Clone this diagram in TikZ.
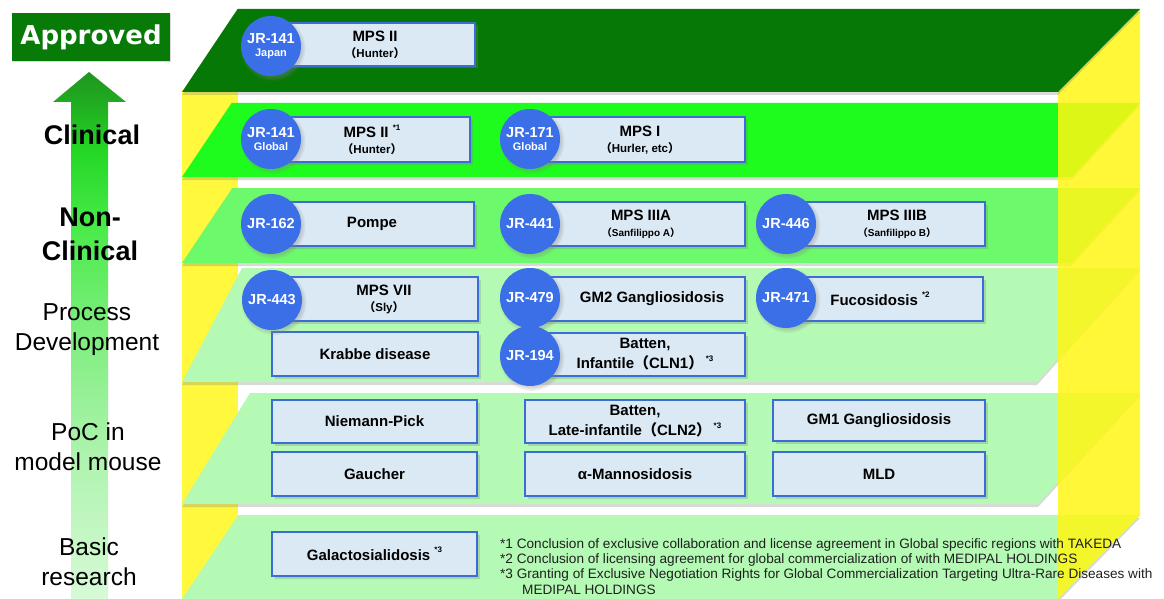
\documentclass[tikz,border=0pt]{standalone}
\usepackage{fontspec}
\setmainfont{Liberation Sans}
\newfontfamily\dvb{DejaVu Sans}
\newfontfamily\jpf{Noto Sans CJK JP}
\usetikzlibrary{shadows}
\definecolor{layA}{RGB}{6,120,6}
\definecolor{layB}{RGB}{30,252,30}
\definecolor{layC}{RGB}{108,250,108}
\definecolor{layD}{RGB}{180,250,180}
\definecolor{wallY}{RGB}{255,248,60}
\definecolor{wallR}{RGB}{255,246,20}
\definecolor{boxblue}{RGB}{58,110,214}
\definecolor{boxfill}{RGB}{219,233,244}
\definecolor{circblue}{RGB}{58,111,232}
\definecolor{apgreen}{RGB}{8,122,8}
\definecolor{arA}{RGB}{30,150,30}
\definecolor{arB}{RGB}{32,170,32}
\definecolor{arC}{RGB}{36,215,36}
\definecolor{arD}{RGB}{75,235,75}
\definecolor{arE}{RGB}{125,238,125}
\definecolor{arF}{RGB}{172,243,172}
\definecolor{arG}{RGB}{215,250,215}
\pgfdeclareverticalshading{arrowsh}{100bp}{color(0bp)=(arG); color(25bp)=(arG); color(39bp)=(arF); color(50.5bp)=(arE); color(60bp)=(arD); color(67.6bp)=(arC); color(72.3bp)=(arB); color(75bp)=(arA); color(100bp)=(arA)}
\newcommand\jlp{{\jpf （}}
\newcommand\jrp{{\jpf ）}}
\newcommand\fnmk[1]{\raisebox{0.5em}{\fontsize{8}{8}\selectfont #1}}
\newcommand\subl[1]{{\fontsize{11.5}{12}\selectfont #1}}
\begin{document}
\begin{tikzpicture}[x=1pt,y=-1pt,
 layerS/.style={drop shadow={shadow xshift=0pt,shadow yshift=-3pt,opacity=0.3}},
 dbox/.style={draw=boxblue,line width=1.8pt,fill=boxfill,inner sep=0pt,drop shadow={shadow xshift=2.5pt,shadow yshift=-2.5pt,opacity=0.3}},
 jr/.style={circle,fill=circblue,minimum size=60pt,inner sep=0pt,text=white,align=center,font=\bfseries\fontsize{14.5}{15}\selectfont,circular drop shadow={shadow xshift=1.5pt,shadow yshift=-2pt,opacity=0.35}},
 bt/.style={font=\bfseries\fontsize{15}{16}\selectfont,align=center,inner sep=0pt},
 btt/.style={font=\bfseries\fontsize{15}{20}\selectfont,align=center,inner sep=0pt},
 lab/.style={font=\fontsize{24.5}{30}\selectfont,align=center,inner sep=0pt},
 labb/.style={font=\bfseries\fontsize{27}{34}\selectfont,align=center,inner sep=0pt},
 fn/.style={font=\fontsize{13.6}{15}\selectfont,anchor=west,inner sep=0pt,text=black!88}]
\useasboundingbox (0,0) rectangle (1164,599);
% left arrow
\shade[shading=arrowsh] (89,72) -- (126,102) -- (108,102) -- (108,599) -- (71,599) -- (71,102) -- (53,102) -- cycle;
\node[fill=apgreen,minimum width=158pt,minimum height=48pt,inner sep=0pt,text=white,font=\dvb\bfseries\fontsize{26}{27}\selectfont,drop shadow={shadow xshift=1pt,shadow yshift=-1.5pt,opacity=0.3}] (appr) at (91,37) {Approved};
% left labels
\node[labb] (lclin) at (92,135) {Clinical};
\node[labb] (lnon) at (90,234) {Non-\\Clinical};
\node[lab] (lproc) at (87,330) {Process\\Development};
\node[lab] (lpoc) at (88,447) {PoC in\\model mouse};
\node[lab] (lbas) at (89,562) {Basic\\research};
% left wall
\fill[wallY] (182,90) rectangle (238,599);
% layers 2-6
\fill[layD,layerS] (238.3,515) -- (1140,515) -- (1058,599) -- (182,599) -- cycle;
\fill[layD,layerS] (250,393) -- (1140,393) -- (1038,504) -- (182,504) -- cycle;
\fill[layD,layerS] (242,268) -- (1140,268) -- (1037,382) -- (182,382) -- cycle;
\fill[layC,layerS] (232.3,188) -- (1140,188) -- (1071,263) -- (182,263) -- cycle;
\fill[layB,layerS] (231.6,103) -- (1140,103) -- (1072,177) -- (182,177) -- cycle;
% right wall
\fill[wallR,opacity=0.85] (1140,9) -- (1140,515) -- (1058,599) -- (1058,92) -- cycle;
% top layer
\fill[layA,layerS] (237.6,9) -- (1140,9) -- (1058,92) -- (182,92) -- cycle;
% boxes
\node[dbox,minimum width=203pt,minimum height=43pt] (b1) at (373.5,44.5) {};
\node[dbox,minimum width=198pt,minimum height=45pt] (b2) at (371,139.5) {};
\node[dbox,minimum width=215pt,minimum height=45pt] (b3) at (637.5,139.5) {};
\node[dbox,minimum width=202pt,minimum height=44pt] (b4) at (373,224) {};
\node[dbox,minimum width=215pt,minimum height=44pt] (b5) at (637.5,224) {};
\node[dbox,minimum width=199pt,minimum height=44pt] (b6) at (885.5,224) {};
\node[dbox,minimum width=206pt,minimum height=44pt] (b7) at (375,299) {};
\node[dbox,minimum width=215pt,minimum height=44pt] (b8) at (637.5,299) {};
\node[dbox,minimum width=197pt,minimum height=44pt] (b9) at (884.5,299) {};
\node[dbox,minimum width=206pt,minimum height=44pt] (b10) at (375,354) {};
\node[dbox,minimum width=215pt,minimum height=43pt] (b11) at (637.5,354.5) {};
\node[dbox,minimum width=205pt,minimum height=43pt] (b12) at (374.5,421.5) {};
\node[dbox,minimum width=220pt,minimum height=43pt] (b13) at (635,421.5) {};
\node[dbox,minimum width=212pt,minimum height=41pt] (b14) at (879,420.5) {};
\node[dbox,minimum width=205pt,minimum height=44pt] (b15) at (374.5,474) {};
\node[dbox,minimum width=220pt,minimum height=44pt] (b16) at (635,474) {};
\node[dbox,minimum width=212pt,minimum height=44pt] (b17) at (879,474) {};
\node[dbox,minimum width=205pt,minimum height=44pt] (b18) at (374.5,554) {};
% box texts
\node[bt] (t1) at (375,45) {MPS II\\\subl{\jlp Hunter\jrp}};
\node[bt] (t2) at (372,140) {MPS II \fnmk{*1}\\\subl{\jlp Hunter\jrp}};
\node[bt] (t3) at (640,140) {MPS I\\\subl{\jlp Hurler, etc\jrp}};
\node[bt] (t4) at (372,224) {Pompe};
\node[bt] (t5) at (641,224) {MPS IIIA\\{\fontsize{10}{11}\selectfont\jlp Sanfilippo A\jrp}};
\node[bt] (t6) at (897,224) {MPS IIIB\\{\fontsize{10}{11}\selectfont\jlp Sanfilippo B\jrp}};
\node[bt] (t7) at (384,299) {MPS VII\\\subl{\jlp Sly\jrp}};
\node[bt] (t8) at (652,299) {GM2 Gangliosidosis};
\node[bt] (t9) at (880,299) {Fucosidosis \fnmk{*2}};
\node[bt] (t10) at (375,354) {Krabbe disease};
\node[btt] (t11) at (645,354.5) {Batten,\\Infantile\jlp CLN1\jrp\,\fnmk{*3}};
\node[bt] (t12) at (374.5,421.5) {Niemann-Pick};
\node[btt] (t13) at (635,421.5) {Batten,\\Late-infantile\jlp CLN2\jrp\,\fnmk{*3}};
\node[bt] (t14) at (879,420.5) {GM1 Gangliosidosis};
\node[bt] (t15) at (374.5,474) {Gaucher};
\node[bt] (t16) at (635,474) {α-Mannosidosis};
\node[bt] (t17) at (879,474) {MLD};
\node[bt] (t18) at (374.5,554) {Galactosialidosis \fnmk{*3}};
% circles
\node[jr] (c1) at (271,46) {JR-141\\[-2pt]{\fontsize{11}{12}\selectfont Japan}};
\node[jr] (c2) at (271,139) {JR-141\\[-2pt]{\fontsize{11}{12}\selectfont Global}};
\node[jr] (c3) at (530,139) {JR-171\\[-2pt]{\fontsize{11}{12}\selectfont Global}};
\node[jr] (c4) at (271,224) {JR-162};
\node[jr] (c5) at (530,224) {JR-441};
\node[jr] (c6) at (786,224) {JR-446};
\node[jr] (c7) at (272,300) {JR-443};
\node[jr] (c8) at (530,298) {JR-479};
\node[jr] (c9) at (786,298) {JR-471};
\node[jr] (c10) at (530,356) {JR-194};
% footnotes
\node[fn] (f1) at (500,545) {*1 Conclusion of exclusive collaboration and license agreement in Global specific regions with TAKEDA};
\node[fn] (f2) at (500,560) {*2 Conclusion of licensing agreement for global commercialization of with MEDIPAL HOLDINGS};
\node[fn] (f3) at (500,575) {*3 Granting of Exclusive Negotiation Rights for Global Commercialization Targeting Ultra-Rare Diseases with};
\node[fn] (f4) at (522,590) {MEDIPAL HOLDINGS};
\end{tikzpicture}
\end{document}
